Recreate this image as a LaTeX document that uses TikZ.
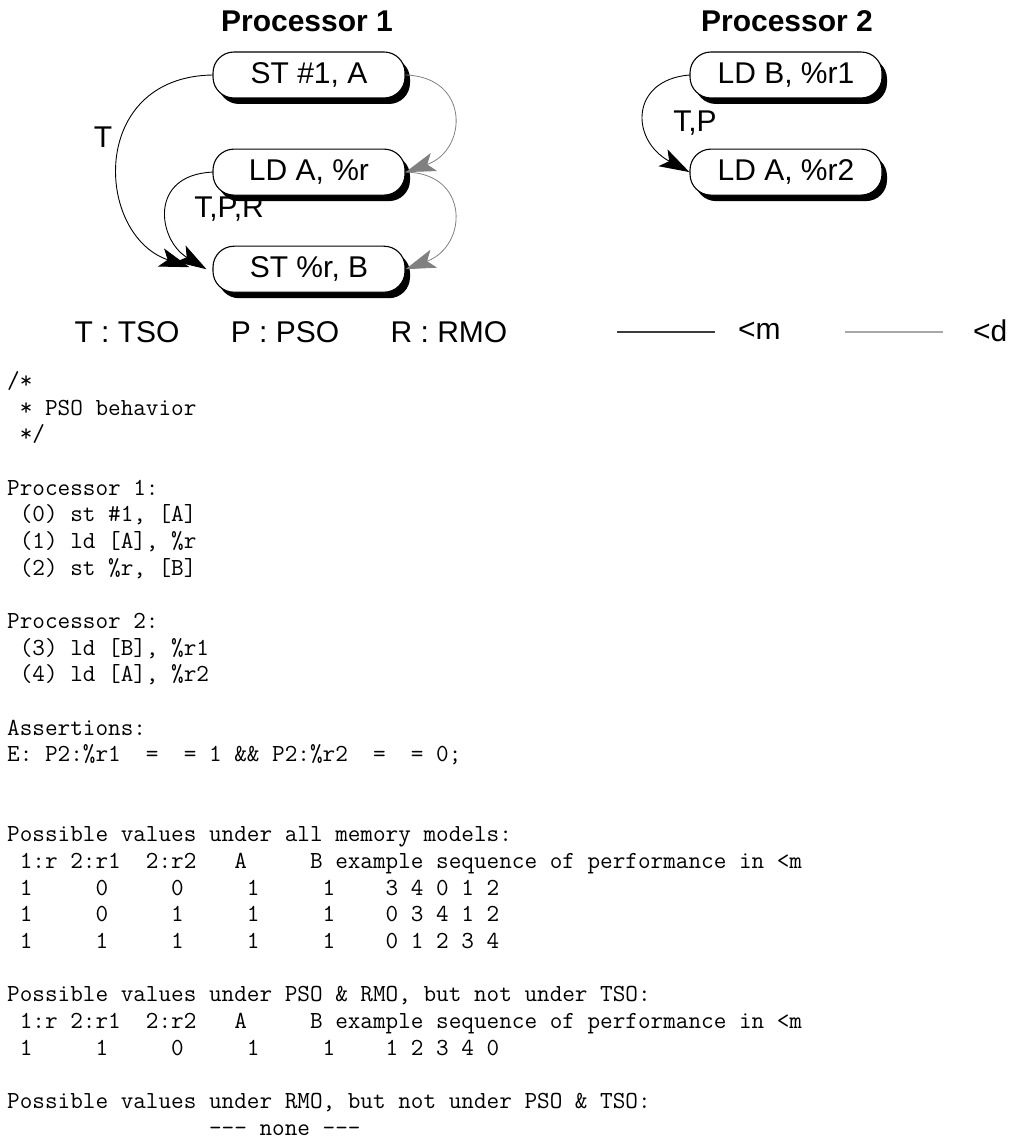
\documentclass[tikz,border=0pt]{standalone}
\usepackage{fontspec}
\setmainfont{Liberation Sans}
\usetikzlibrary{arrows.meta, positioning, shadows, calc}
\usepackage{xcolor}
\definecolor{ordgray}{HTML}{808080}
\definecolor{keydark}{HTML}{3C3C3C}
\definecolor{keylight}{HTML}{A8A8A8}

\begin{document}
\begin{tikzpicture}[x=1pt, y=-1pt,
    instr/.style={rectangle, rounded corners=21pt, draw=black, fill=white, line width=1.1pt,
                  minimum width=192pt, minimum height=46pt, inner sep=0pt,
                  font=\fontsize{30}{36}\selectfont,
                  drop shadow={shadow xshift=5pt, shadow yshift=-6pt, fill=black, opacity=1}},
    title/.style={font=\fontsize{30}{36}\selectfont\bfseries, inner sep=0pt},
    edgelabel/.style={font=\fontsize{30}{36}\selectfont, inner sep=0pt},
    keytext/.style={font=\fontsize{30}{36}\selectfont, inner sep=0pt},
    keyline/.style={draw=#1, line width=1.5pt},
    code/.style={font=\ttfamily\fontsize{24.5}{26.67}\selectfont, inner sep=0pt, anchor=base west},
    memarrow/.style={-{Stealth[length=30pt, width=19pt, inset=7pt]}, line width=0.9pt, black},
    deparrow/.style={-{Stealth[length=30pt, width=19pt, inset=7pt]}, line width=0.8pt, ordgray}
  ]
    \useasboundingbox (0,0) rectangle (1012,1139);

    % processor 1
    \node[title] (p1title) at (307,21) {Processor 1};
    \node[instr] (st1) at (309,75) {ST \#1, A};
    \node[instr, below=50pt of st1] (ld1) {LD A, \%r};
    \node[instr, below=50pt of ld1] (st2) {ST \%r, B};

    \draw[memarrow] (st1.west) .. controls (88,77) and (95,235) .. ($(st2.west)+(-23,-2)$);
    \draw[memarrow] (ld1.west) .. controls (148,175) and (158,240) .. ($(st2.west)+(-6,0)$);
    \draw[deparrow] (st1.east) .. controls (470,77) and (468,150) .. (ld1.east);
    \draw[deparrow] (ld1.east) .. controls (470,173) and (468,246) .. (st2.east);

    \node[edgelabel] (tlab) at (103,137) {T};
    \node[edgelabel] (tprlab) at (229,209) {T,P,R};

    % processor 2
    \node[title] (p2title) at (787,21) {Processor 2};
    \node[instr] (ldb) at (786,75) {LD B, \%r1};
    \node[instr, below=50pt of ldb] (lda) {LD A, \%r2};

    \draw[memarrow] (ldb.west) .. controls (630,80) and (630,140) .. (lda.west);
    \node[edgelabel] (tplab) at (695,123) {T,P};

    % key
    \node[keytext] (tso) at (127,332) {T : TSO};
    \node[keytext] (pso) at (285,332) {P : PSO};
    \node[keytext] (rmo) at (449,332) {R : RMO};
    \node[keytext, anchor=west] (mkey) at (738,331) {<m};
    \node[keytext, anchor=west] (dkey) at (973,331) {<d};
    \coordinate (mline) at (617,332);
    \coordinate (dline) at (845,332);
    \draw[keyline=keydark] (mline) -- ++(98,0);
    \draw[keyline=keylight] (dline) -- ++(98,0);

    % litmus test text
    \foreach \n/\txt in {
      0/{/*},
      1/{~*~PSO~behavior},
      2/{~*/},
      4/{Processor~1:},
      5/{~(0)~st~\#1,~[A]},
      6/{~(1)~ld~[A],~\%r},
      7/{~(2)~st~\%r,~[B]},
      9/{Processor~2:},
      10/{~(3)~ld~[B],~\%r1},
      11/{~(4)~ld~[A],~\%r2},
      13/{Assertions:},
      14/{E:~P2:\%r1~~=~~=~1~\&\&~P2:\%r2~~=~~=~0;},
      17/{Possible~values~under~all~memory~models:},
      18/{~1:r~2:r1~~2:r2~~~A~~~~~B~example~sequence~of~performance~in~<m},
      19/{~1~~~~~0~~~~~0~~~~~1~~~~~1~~~~3~4~0~1~2},
      20/{~1~~~~~0~~~~~1~~~~~1~~~~~1~~~~0~3~4~1~2},
      21/{~1~~~~~1~~~~~1~~~~~1~~~~~1~~~~0~1~2~3~4},
      23/{Possible~values~under~PSO~\&~RMO,~but~not~under~TSO:},
      24/{~1:r~2:r1~~2:r2~~~A~~~~~B~example~sequence~of~performance~in~<m},
      25/{~1~~~~~1~~~~~0~~~~~1~~~~~1~~~~1~2~3~4~0},
      27/{Possible~values~under~RMO,~but~not~under~PSO~\&~TSO:},
      28/{~~~~~~~~~~~~~~~~---~none~---}}
      \node[code] (code\n) at (7,388.5+26.67*\n) {\txt};
  \end{tikzpicture}
\end{document}
